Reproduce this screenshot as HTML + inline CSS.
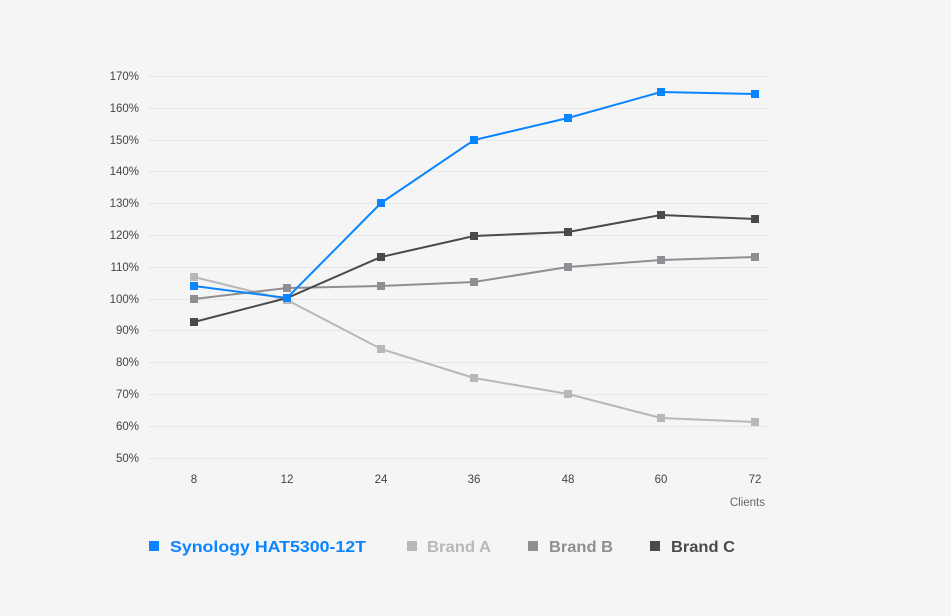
<!DOCTYPE html>
<html><head><meta charset="utf-8"><style>
html,body{margin:0;padding:0;background:#f5f5f5;}
svg{display:block;font-family:"Liberation Sans",sans-serif;}
</style></head><body>
<svg width="951" height="616" viewBox="0 0 951 616">
<rect width="951" height="616" fill="#f5f5f5"/>
<g stroke="#e6e6e6" stroke-width="1">
<line x1="148" x2="768" y1="76.5" y2="76.5"/><line x1="148" x2="768" y1="108.5" y2="108.5"/>
<line x1="148" x2="768" y1="140.5" y2="140.5"/><line x1="148" x2="768" y1="171.5" y2="171.5"/>
<line x1="148" x2="768" y1="203.5" y2="203.5"/><line x1="148" x2="768" y1="235.5" y2="235.5"/>
<line x1="148" x2="768" y1="267.5" y2="267.5"/><line x1="148" x2="768" y1="299.5" y2="299.5"/>
<line x1="148" x2="768" y1="330.5" y2="330.5"/><line x1="148" x2="768" y1="362.5" y2="362.5"/>
<line x1="148" x2="768" y1="394.5" y2="394.5"/><line x1="148" x2="768" y1="426.5" y2="426.5"/>
<line x1="148" x2="768" y1="458.5" y2="458.5"/>
</g>
<g font-size="11.5" fill="#444" text-anchor="end">
<text x="139" y="80">170%</text><text x="139" y="112">160%</text><text x="139" y="144">150%</text>
<text x="139" y="175">140%</text><text x="139" y="207">130%</text><text x="139" y="239">120%</text>
<text x="139" y="271">110%</text><text x="139" y="303">100%</text><text x="139" y="334">90%</text>
<text x="139" y="366">80%</text><text x="139" y="398">70%</text><text x="139" y="430">60%</text>
<text x="139" y="462">50%</text>
</g>
<g font-size="11.5" fill="#444" text-anchor="middle">
<text x="194" y="483">8</text><text x="287" y="483">12</text><text x="381" y="483">24</text>
<text x="474" y="483">36</text><text x="568" y="483">48</text><text x="661" y="483">60</text><text x="755" y="483">72</text>
</g>
<text x="765" y="506" font-size="11.5" fill="#666" text-anchor="end">Clients</text>
<g fill="none" stroke-width="2">
<polyline stroke="#b8b8b8" points="194,277 287,300 381,349 474,378 568,394 661,418 755,422"/>
<polyline stroke="#8e8e93" points="194,299 287,288 381,286 474,282 568,267 661,260 755,257"/>
<polyline stroke="#4a4a4a" points="194,322 287,298 381,257 474,236 568,232 661,215 755,219"/>
<polyline stroke="#0a84ff" points="194,286 287,298 381,203 474,140 568,118 661,92 755,94"/>
</g>
<g fill="#b8b8b8"><rect x="190" y="273" width="8" height="8"/><rect x="283" y="296" width="8" height="8"/><rect x="377" y="345" width="8" height="8"/><rect x="470" y="374" width="8" height="8"/><rect x="564" y="390" width="8" height="8"/><rect x="657" y="414" width="8" height="8"/><rect x="751" y="418" width="8" height="8"/></g>
<g fill="#8e8e93"><rect x="190" y="295" width="8" height="8"/><rect x="283" y="284" width="8" height="8"/><rect x="377" y="282" width="8" height="8"/><rect x="470" y="278" width="8" height="8"/><rect x="564" y="263" width="8" height="8"/><rect x="657" y="256" width="8" height="8"/><rect x="751" y="253" width="8" height="8"/></g>
<g fill="#4a4a4a"><rect x="190" y="318" width="8" height="8"/><rect x="283" y="294" width="8" height="8"/><rect x="377" y="253" width="8" height="8"/><rect x="470" y="232" width="8" height="8"/><rect x="564" y="228" width="8" height="8"/><rect x="657" y="211" width="8" height="8"/><rect x="751" y="215" width="8" height="8"/></g>
<g fill="#0a84ff"><rect x="190" y="282" width="8" height="8"/><rect x="283" y="294" width="8" height="8"/><rect x="377" y="199" width="8" height="8"/><rect x="470" y="136" width="8" height="8"/><rect x="564" y="114" width="8" height="8"/><rect x="657" y="88" width="8" height="8"/><rect x="751" y="90" width="8" height="8"/></g>
<g font-size="16" font-weight="bold">
<rect x="149" y="541" width="10" height="10" fill="#0a84ff"/><text x="170" y="552" fill="#0a84ff" textLength="196" lengthAdjust="spacingAndGlyphs">Synology HAT5300-12T</text>
<rect x="407" y="541" width="10" height="10" fill="#b8b8b8"/><text x="427" y="552" fill="#b8b8b8" textLength="64" lengthAdjust="spacingAndGlyphs">Brand A</text>
<rect x="528" y="541" width="10" height="10" fill="#8e8e93"/><text x="549" y="552" fill="#8e8e93" textLength="64" lengthAdjust="spacingAndGlyphs">Brand B</text>
<rect x="650" y="541" width="10" height="10" fill="#4a4a4a"/><text x="671" y="552" fill="#4a4a4a" textLength="64" lengthAdjust="spacingAndGlyphs">Brand C</text>
</g>
</svg>
</body></html>
